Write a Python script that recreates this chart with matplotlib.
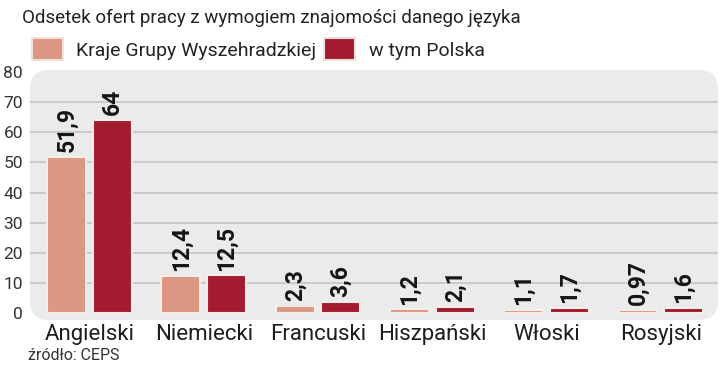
import matplotlib
matplotlib.use("Agg")
import matplotlib.pyplot as plt
from matplotlib.patches import FancyBboxPatch, Patch
import numpy as np

categories = ["Angielski", "Niemiecki", "Francuski", "Hiszpański", "Włoski", "Rosyjski"]
v4_values = [51.9, 12.4, 2.3, 1.2, 1.1, 0.97]
pl_values = [64, 12.5, 3.6, 2.1, 1.7, 1.6]
v4_labels = ["51,9", "12,4", "2,3", "1,2", "1,1", "0,97"]
pl_labels = ["64", "12,5", "3,6", "2,1", "1,7", "1,6"]
series_names = ["Kraje Grupy Wyszehradzkiej", "w tym Polska"]
yticks = [0, 10, 20, 30, 40, 50, 60, 70, 80]
title = "Odsetek ofert pracy z wymogiem znajomości danego języka"
source = "źródło: CEPS"

FONT = ["Roboto", "DejaVu Sans"]
plt.rcParams["font.family"] = FONT

c_light = "#dc9782"
c_dark = "#a31b31"
panel = "#ebebeb"

fig = plt.figure(figsize=(7.2, 3.68), dpi=100)
L, R, T, B = 30, 718, 70, 320
ax = fig.add_axes([L / 720, (368 - B) / 368, (R - L) / 720, (B - T) / 368])
ax.patch.set_visible(False)
asp = (R - L) / (B - T)
bg = FancyBboxPatch((0, 0), 1, 1, boxstyle="round,pad=0,rounding_size=0.028",
                    mutation_aspect=asp, transform=ax.transAxes,
                    facecolor=panel, edgecolor="none", zorder=0)
ax.add_patch(bg)

x = np.arange(len(categories))
w = 0.34
gap = 0.03
b1 = ax.bar(x - w / 2 - gap, v4_values, width=w, color=c_light,
            edgecolor="#f6ece8", linewidth=1.5, zorder=3)
b2 = ax.bar(x + w / 2 + gap, pl_values, width=w, color=c_dark,
            edgecolor="#f6ece8", linewidth=1.5, zorder=3)

for bars, labs in ((b1, v4_labels), (b2, pl_labels)):
    for rect, lab in zip(bars, labs):
        ax.text(rect.get_x() + rect.get_width() / 2, rect.get_height() + 1.6, lab,
                rotation=90, ha="center", va="bottom", fontsize=16.5,
                fontweight="bold", color="#151515", zorder=4)

ax.set_xlim(-0.52, len(categories) - 0.5)
ax.set_ylim(-2.3, 80.66)
ax.set_yticks(yticks)
ax.set_yticklabels([str(t) for t in yticks], fontsize=12.5, color="#333333")
ax.set_xticks(x)
ax.set_xticklabels(categories, fontsize=16, color="#1e1e1e")
ax.tick_params(axis="both", length=0)
ax.tick_params(axis="y", pad=5)
ax.tick_params(axis="x", pad=3)
for s in ax.spines.values():
    s.set_visible(False)
ax.grid(axis="y", color="#c4c4c4", linewidth=1.2, zorder=1)
gl = ax.get_ygridlines()
gl[0].set_visible(False)
gl[-1].set_visible(False)

fig.text(22 / 720, 1 - 18 / 368, title, fontsize=13.5, color="#222222",
         ha="left", va="center")
handles = [Patch(facecolor=c_light, edgecolor="#f0e0da", linewidth=1.5),
           Patch(facecolor=c_dark, edgecolor="#f0e0da", linewidth=1.5)]
fig.legend(handles, series_names, loc="center left",
           bbox_to_anchor=(14 / 720, 1 - 49 / 368), ncol=2, frameon=False,
           handlelength=1.6, handleheight=1.3, columnspacing=0.4,
           handletextpad=0.7, labelcolor="#222222",
           prop={"size": 14})
fig.text(28 / 720, 1 - 355 / 368, source, fontsize=11.5, color="#333333",
         ha="left", va="center")

fig.savefig("out.png", dpi=100)
